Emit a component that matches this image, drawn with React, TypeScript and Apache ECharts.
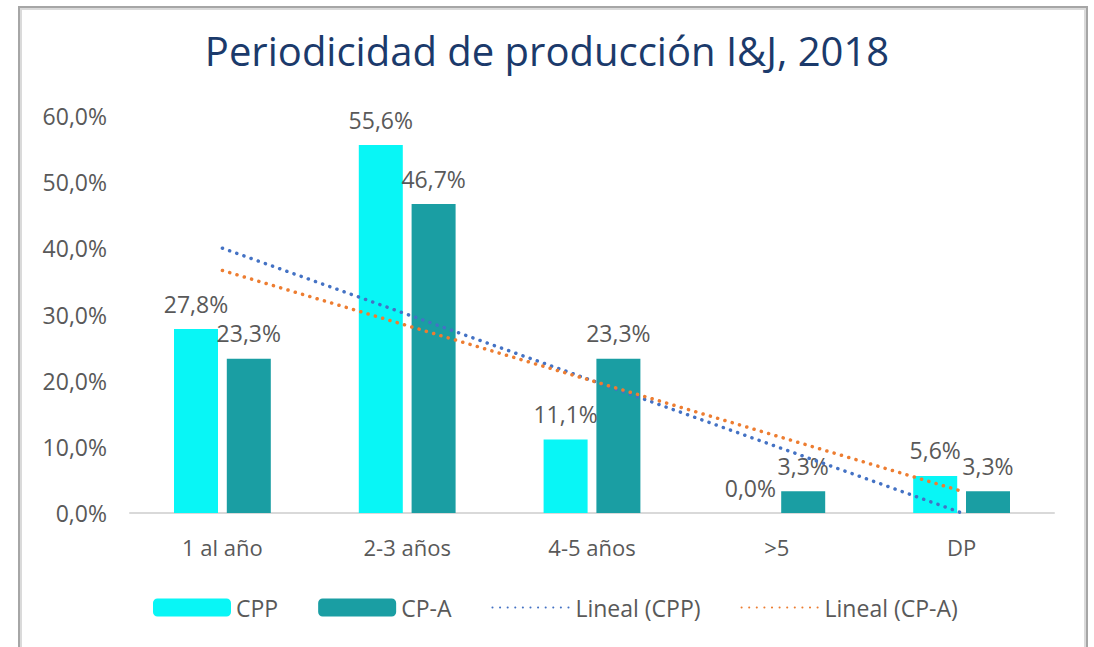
import React, { useEffect, useRef } from "react";
import * as echarts from "echarts";

const categories = ["1 al año", "2-3 años", "4-5 años", ">5", "DP"];
const cppValues = [27.8, 55.6, 11.1, 0.0, 5.6];
const cpaValues = [23.3, 46.7, 23.3, 3.3, 3.3];
const seriesNames = ["CPP", "CP-A", "Lineal (CPP)", "Lineal (CP-A)"];
const yTicks = { min: 0, max: 60, interval: 10 };

function linearTrend(vals: number[]): number[] {
  const n = vals.length;
  const xs = vals.map((_, i) => i + 1);
  const mx = xs.reduce((a, b) => a + b, 0) / n;
  const my = vals.reduce((a, b) => a + b, 0) / n;
  let sxy = 0;
  let sxx = 0;
  xs.forEach((x, i) => {
    sxy += (x - mx) * (vals[i] - my);
    sxx += (x - mx) * (x - mx);
  });
  const slope = sxy / sxx;
  const intercept = my - slope * mx;
  return xs.map((x) => intercept + slope * x);
}

const fmt = (v: number) => v.toFixed(1).replace(".", ",") + "%";

const FONT = "'Open Sans', sans-serif";
const GREY = "#595959";

export default function App() {
  const ref = useRef<HTMLDivElement>(null);
  useEffect(() => {
    if (!ref.current) return;
    const chart = echarts.init(ref.current, null, { renderer: "svg" });
    const dotted = (color: string) => ({
      color,
      width: 3.5,
      type: [0.1, 7.5],
      cap: "round",
    });
    const barLabel = {
      show: true,
      position: "top",
      distance: 14,
      fontFamily: FONT,
      fontSize: 23,
      color: GREY,
      formatter: (p: any) => fmt(p.value),
    };
    chart.setOption({
      animation: false,
      backgroundColor: "#ffffff",
      graphic: [
        {
          type: "rect",
          shape: { x: 19, y: 7, width: 1068, height: 700 },
          style: { fill: "none", stroke: "#A6A6A6", lineWidth: 2 },
          silent: true,
        },
        {
          type: "rect",
          shape: { x: 21, y: 9, width: 1064, height: 700 },
          style: { fill: "none", stroke: "#DADADA", lineWidth: 2 },
          silent: true,
        },
      ],
      title: {
        text: "Periodicidad de producción I&J, 2018",
        left: "center",
        top: 25,
        textStyle: {
          fontFamily: FONT,
          fontSize: 40,
          fontWeight: "normal",
          color: "#1B3A6B",
        },
      },
      legend: {
        left: 153,
        top: 596,
        padding: 0,
        itemWidth: 78,
        itemHeight: 18,
        itemGap: 40,
        textStyle: { fontFamily: FONT, fontSize: 23, color: GREY },
        data: [
          { name: seriesNames[0] },
          { name: seriesNames[1] },
          { name: seriesNames[2], itemStyle: { opacity: 0 } },
          { name: seriesNames[3], itemStyle: { opacity: 0 } },
        ],
      },
      grid: { left: 130, right: 40, top: 116, bottom: 134 },
      xAxis: {
        type: "category",
        data: categories,
        axisLine: { lineStyle: { color: "#D9D9D9", width: 2 } },
        axisTick: { show: false },
        axisLabel: {
          fontFamily: FONT,
          fontSize: 22,
          color: GREY,
          margin: 23,
        },
      },
      yAxis: {
        type: "value",
        min: yTicks.min,
        max: yTicks.max,
        interval: yTicks.interval,
        splitLine: { show: false },
        axisLine: { show: false },
        axisTick: { show: false },
        axisLabel: {
          fontFamily: FONT,
          fontSize: 23,
          color: GREY,
          margin: 23,
          formatter: (v: number) => fmt(v),
        },
      },
      series: [
        {
          name: seriesNames[0],
          type: "bar",
          data: cppValues,
          barWidth: 44,
          barGap: "20%",
          itemStyle: { color: "#08F6F6" },
          label: barLabel,
        },
        {
          name: seriesNames[1],
          type: "bar",
          data: cpaValues,
          barWidth: 44,
          barGap: "20%",
          itemStyle: { color: "#1A9EA3" },
          label: barLabel,
        },
        {
          name: seriesNames[2],
          type: "line",
          data: linearTrend(cppValues),
          symbol: "none",
          z: 5,
          itemStyle: { color: "#4472C4" },
          lineStyle: dotted("#4472C4"),
        },
        {
          name: seriesNames[3],
          type: "line",
          data: linearTrend(cpaValues),
          symbol: "none",
          z: 5,
          itemStyle: { color: "#ED7D31" },
          lineStyle: dotted("#ED7D31"),
        },
      ],
    });
    return () => chart.dispose();
  }, []);
  return (
    <div
      ref={ref}
      style={{
        position: "absolute",
        left: 0,
        top: 0,
        width: 1094,
        height: 647,
        background: "#fff",
      }}
    />
  );
}
